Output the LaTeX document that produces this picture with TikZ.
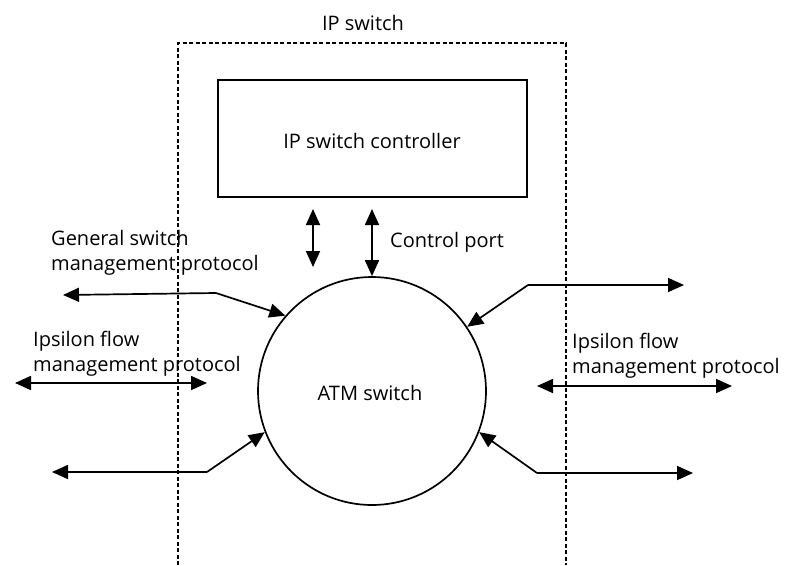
\documentclass[tikz,border=0pt]{standalone}
\usepackage{fontspec}
\setmainfont{Open Sans}
\usetikzlibrary{arrows.meta}
\begin{document}
\begin{tikzpicture}[x=1pt,y=-1pt,
  lbl/.style={font=\fontsize{20}{25}\selectfont, inner sep=0pt, align=left, text=black},
  conn/.style={line width=1.7pt, draw=black},
  ah/.tip={Triangle[length=16pt,width=14pt]},
  tip/.style={-ah},
  dtip/.style={ah-ah},
  bnd/.style={dash pattern=on 4pt off 2.5pt, line width=1.3pt}]
\useasboundingbox (0,0) rectangle (786,565);
% dashed IP switch boundary
\coordinate (bl) at (178,565);
\coordinate (tl) at (178,43);
\coordinate (tr) at (566,43);
\coordinate (br) at (566,565);
\draw[bnd] (bl) -- (tl) -- (tr) -- (br);
\node[lbl, anchor=base] (title) at (363,30) {IP switch};
% controller
\node[draw, line width=1.7pt, minimum width=309pt, minimum height=117pt, inner sep=0pt] (ctrl) at (372.5,138.5) {};
\node[lbl, anchor=base] (ctrltxt) at (372,148) {IP switch controller};
% ATM switch
\node[draw, circle, line width=1.7pt, minimum size=228pt, inner sep=0pt] (atm) at (372,391) {};
\node[lbl, anchor=base] (atmtxt) at (370,400) {ATM switch};
% control arrows
\coordinate (c1a) at (313,209);
\coordinate (c1b) at (313,267);
\draw[conn,dtip] (c1a) -- (c1b);
\coordinate (c2a) at (372,209);
\draw[conn,dtip] (c2a) -- (atm.north);
\node[lbl, anchor=base west] (cp) at (390,247) {Control port};
% General switch management protocol
\node[lbl, anchor=base west] (gsmp) at (51,270) {General switch\\management protocol};
\coordinate (g0) at (63,295);
\coordinate (g1) at (216,293);
\draw[conn,-ah] (g1) -- (g0);
\draw[conn,tip] (g1) -- (atm.139);
% Ipsilon left
\node[lbl, anchor=base west] (ipl) at (33,371) {Ipsilon flow\\management protocol};
\coordinate (il0) at (15,383);
\coordinate (il1) at (207,383);
\draw[conn,dtip] (il0) -- (il1);
% bottom left
\coordinate (bl0) at (52,472);
\coordinate (bl1) at (207,472);
\draw[conn,-ah] (bl1) -- (bl0);
\draw[conn,tip] (bl1) -- (atm.-159);
% right top
\coordinate (rt1) at (528,285);
\coordinate (rt0) at (684,285);
\draw[conn,tip] (rt1) -- (rt0);
\draw[conn,tip] (rt1) -- (atm.34);
% Ipsilon right
\node[lbl, anchor=base west] (ipr) at (572,373) {Ipsilon flow\\management protocol};
\coordinate (ir0) at (537,386);
\coordinate (ir1) at (732,386);
\draw[conn,dtip] (ir0) -- (ir1);
% bottom right
\coordinate (br1) at (537,473);
\coordinate (br0) at (693,473);
\draw[conn,tip] (br1) -- (br0);
\draw[conn,tip] (br1) -- (atm.-21);
\end{tikzpicture}
\end{document}
